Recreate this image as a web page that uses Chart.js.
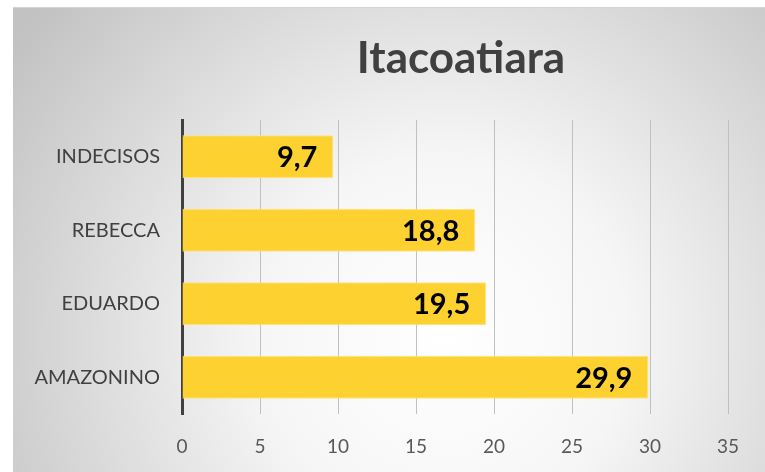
<!DOCTYPE html>
<html>
<head>
<meta charset="utf-8">
<script src="https://cdn.jsdelivr.net/npm/chart.js@4"></script>
<style>
    html, body { margin: 0; padding: 0; background: #ffffff; }
    #wrap {
        position: absolute; left: 13px; top: 7px;
        width: 752px; height: 465px;
        border-top: 1px solid #d4d4d4;
    }
</style>
</head>
<body>
<div id="wrap"><canvas id="myChart" width="752" height="464"></canvas></div>
<script>
const chartTitle = 'Itacoatiara';
const categories = ['INDECISOS', 'REBECCA', 'EDUARDO', 'AMAZONINO'];
const votos = [9.7, 18.8, 19.5, 29.9];
const xTicks = [0, 5, 10, 15, 20, 25, 30, 35];

document.addEventListener('DOMContentLoaded', function() {
    const ctx = document.getElementById('myChart').getContext('2d');
    const fontFamily = 'Lato, "Open Sans", sans-serif';

    // fundo com gradiente radial (branco no meio, cinza nas bordas)
    const bgPlugin = {
        id: 'bg',
        beforeDraw(chart) {
            const c = chart.ctx;
            const w = chart.width, h = chart.height;
            const g = c.createRadialGradient(430, 330, 0, 430, 330, 520);
            g.addColorStop(0, '#ffffff');
            g.addColorStop(0.35, '#f6f6f6');
            g.addColorStop(1, '#c2c2c2');
            c.save();
            c.fillStyle = g;
            c.fillRect(0, 0, w, h);
            c.restore();
        }
    };

    // titulo centrado sobre a area do grafico
    const titlePlugin = {
        id: 'plotTitle',
        afterDraw(chart) {
            const c = chart.ctx;
            const area = chart.chartArea;
            c.save();
            c.font = 'bold 44px ' + fontFamily;
            c.fillStyle = '#404040';
            c.textAlign = 'center';
            c.textBaseline = 'middle';
            c.fillText(chartTitle, (area.left + area.right) / 2 + 6, 51);
            c.restore();
        }
    };

    // rotulos de valor dentro da ponta da barra
    const valuePlugin = {
        id: 'valueLabels',
        afterDatasetsDraw(chart) {
            const c = chart.ctx;
            const meta = chart.getDatasetMeta(0);
            c.save();
            c.font = 'bold 29px ' + fontFamily;
            c.fillStyle = '#000000';
            c.textAlign = 'right';
            c.textBaseline = 'middle';
            meta.data.forEach(function(bar, i) {
                const txt = String(votos[i]).replace('.', ',');
                c.fillText(txt, bar.x - 16, bar.y + 1);
            });
            c.restore();
        }
    };

    new Chart(ctx, {
        type: 'bar',
        data: {
            labels: categories,
            datasets: [{
                label: chartTitle,
                data: votos,
                backgroundColor: '#fdd12f',
                borderColor: '#ffe27c',
                borderWidth: 1,
                borderSkipped: 'left',
                categoryPercentage: 1,
                barPercentage: 0.585
            }]
        },
        options: {
            indexAxis: 'y',
            responsive: false,
            animation: false,
            layout: {
                padding: { top: 112, right: 37, bottom: 0, left: 0 }
            },
            plugins: {
                legend: { display: false },
                title: { display: false },
                tooltip: { enabled: false }
            },
            scales: {
                x: {
                    min: 0,
                    max: 35,
                    afterBuildTicks(scale) {
                        scale.ticks = xTicks.map(v => ({ value: v }));
                    },
                    afterFit(scale) { scale.height = 58; },
                    grid: { color: '#c0c0c0', lineWidth: 1, drawTicks: false },
                    border: { display: false },
                    ticks: {
                        padding: 21,
                        color: '#595959',
                        font: { family: fontFamily, size: 19 }
                    }
                },
                y: {
                    afterFit(scale) { scale.width = 169; },
                    grid: { display: false, drawTicks: false },
                    border: { display: true, color: '#404040', width: 3 },
                    ticks: {
                        padding: 22,
                        color: '#404040',
                        font: { family: fontFamily, size: 20 }
                    }
                }
            }
        },
        plugins: [bgPlugin, titlePlugin, valuePlugin]
    });
});
</script>
</body>
</html>
